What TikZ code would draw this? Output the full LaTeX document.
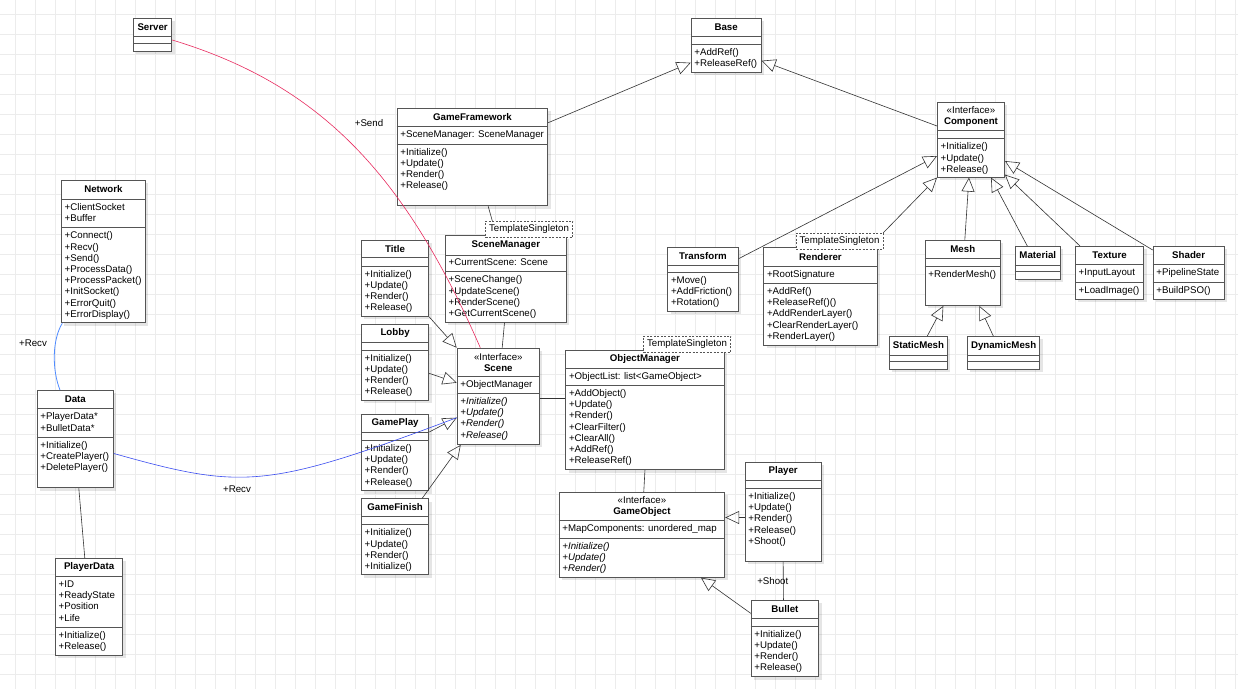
\documentclass[tikz,border=0pt]{standalone}
\usepackage{fontspec}
\setmainfont{Liberation Sans}
\usetikzlibrary{arrows.meta,shadows}
\definecolor{gridgray}{RGB}{236,236,236}
\definecolor{boxline}{RGB}{85,85,85}
\definecolor{linkgray}{RGB}{51,51,51}
\definecolor{sendred}{RGB}{232,44,96}
\definecolor{recvblue}{RGB}{58,76,240}
\definecolor{netblue}{RGB}{80,140,255}
\newcommand{\umlfont}{\fontsize{9.7}{11.2}\selectfont}

\tikzset{
  gridline/.style={draw=gridgray, line width=0.8pt},
  classbox/.style={draw=boxline, line width=0.9pt, fill=white, anchor=north west, inner sep=0pt,
    drop shadow={shadow xshift=3pt, shadow yshift=-3pt, opacity=0.1, fill=black}},
  classline/.style={draw=boxline, line width=0.9pt},
  classname/.style={font=\fontsize{9.7}{10.7}\selectfont\bfseries, align=center, inner sep=0pt},
  members/.style={font=\umlfont, align=left, anchor=north west, inner sep=0pt},
  singleton/.style={draw=boxline, dash pattern=on 2pt off 1.5pt, fill=white, font=\umlfont,
    inner sep=0pt, minimum width=87pt, minimum height=16.5pt},
  inherit/.style={draw=linkgray, line width=0.6pt, -{Triangle[open, length=14pt, width=13pt]}},
  assoc/.style={draw=linkgray, line width=0.6pt},
  sendline/.style={draw=sendred, line width=0.6pt},
  recvline/.style={draw=recvblue, line width=0.6pt},
  netline/.style={draw=netblue, line width=0.8pt},
  lbl/.style={font=\umlfont, inner sep=0pt},
}

% class box: name, corner, width, height, title depth, attribute depth, title, attributes, methods
\newcommand{\umlclass}[9]{%
  \node[classbox, minimum width=#3, minimum height=#4] (#1) at (#2) {};
  \draw[classline] ([yshift=-#5]#1.north west) -- ([yshift=-#5]#1.north east);
  \draw[classline] ([yshift=-#6]#1.north west) -- ([yshift=-#6]#1.north east);
  \node[classname] (#1-t) at ([yshift=-#5/2]#1.north) {#7};
  \node[members] (#1-a) at ([xshift=3.5, yshift=-#5-4]#1.north west) {#8};
  \node[members] (#1-m) at ([xshift=3.5, yshift=-#6-4]#1.north west) {#9};
}

\begin{document}
\begin{tikzpicture}[x=1pt, y=-1pt]
  % background and grid
  \fill[white] (0,0) rectangle (1238,689);
  \useasboundingbox (0,0) rectangle (1238,689);
  \foreach \gx in {15.5,35.5,...,1235.5} \draw[gridline] (\gx,0) -- (\gx,689);
  \foreach \gy in {14.5,34.5,...,674.5} \draw[gridline] (0,\gy) -- (1238,\gy);

  % network side
  \umlclass{server}{133,18}{38.3}{33}{18.7}{25.7}{Server}{}{}
  \umlclass{network}{61,180}{84}{142.3}{19}{47.7}{Network}{+ClientSocket\\+Buffer}%
    {+Connect()\\+Recv()\\+Send()\\+ProcessData()\\+ProcessPacket()\\+InitSocket()\\+ErrorQuit()\\+ErrorDisplay()}
  \umlclass{data}{36.7,390}{76.3}{97.3}{18.7}{47.3}{Data}{+PlayerData*\\+BulletData*}%
    {+Initialize()\\+CreatePlayer()\\+DeletePlayer()}
  \umlclass{playerdata}{55,558}{67.3}{97}{18.7}{69.3}{PlayerData}{+ID\\+ReadyState\\+Position\\+Life}%
    {+Initialize()\\+Release()}

  % framework and scenes
  \umlclass{base}{690.7,17.7}{70}{54}{19}{26.3}{Base}{}{+AddRef()\\+ReleaseRef()}
  \umlclass{framework}{396.7,107.7}{150.6}{97.6}{19}{36.3}{GameFramework}{+SceneManager: SceneManager}%
    {+Initialize()\\+Update()\\+Render()\\+Release()}
  \umlclass{scenemgr}{445,235.3}{120.7}{86.4}{19.7}{36.4}{SceneManager}{+CurrentScene: Scene}%
    {+SceneChange()\\+UpdateScene()\\+RenderScene()\\+GetCurrentScene()}
  \umlclass{title}{361,240}{67.3}{76}{17.3}{26}{Title}{}{+Initialize()\\+Update()\\+Render()\\+Release()}
  \umlclass{lobby}{361,324}{67.3}{76}{18}{26}{Lobby}{}{+Initialize()\\+Update()\\+Render()\\+Release()}
  \umlclass{gameplay}{361,414}{67.3}{76.3}{18.3}{26.3}{GamePlay}{}{+Initialize()\\+Update()\\+Render()\\+Release()}
  \umlclass{gamefinish}{361,498.3}{67.3}{76}{17.7}{26.4}{GameFinish}{}{+Initialize()\\+Update()\\+Render()\\+Initialize()}
  \umlclass{scene}{456.7,347.7}{82.3}{96.3}{29}{45.6}{{\mdseries «Interface»}\\Scene}{+ObjectManager}%
    {\textit{+Initialize()}\\\textit{+Update()}\\\textit{+Render()}\\\textit{+Release()}}

  % objects
  \umlclass{objmgr}{565.3,349.7}{158.4}{119.6}{18.6}{35.6}{ObjectManager}{+ObjectList: list<GameObject>}%
    {+AddObject()\\+Update()\\+Render()\\+ClearFilter()\\+ClearAll()\\+AddRef()\\+ReleaseRef()}
  \umlclass{gameobject}{558.7,492}{165.6}{84.7}{28.7}{46}{{\mdseries «Interface»}\\GameObject}%
    {+MapComponents: unordered\_map}{\textit{+Initialize()}\\\textit{+Update()}\\\textit{+Render()}}
  \umlclass{player}{744.7,462}{76}{98.7}{18.3}{26.3}{Player}{}{+Initialize()\\+Update()\\+Render()\\+Release()\\+Shoot()}
  \umlclass{bullet}{750.7,600}{67.6}{76.3}{18}{26}{Bullet}{}{+Initialize()\\+Update()\\+Render()\\+Release()}

  % components
  \umlclass{component}{937,102}{67}{74.7}{28.3}{36.7}{{\mdseries «Interface»}\\Component}{}%
    {+Initialize()\\+Update()\\+Release()}
  \umlclass{transform}{667.3,246.7}{70.4}{64}{18.3}{25.6}{Transform}{}{+Move()\\+AddFriction()\\+Rotation()}
  \umlclass{renderer}{763.3,246.7}{113.4}{98.3}{20}{36.6}{Renderer}{+RootSignature}%
    {+AddRef()\\+ReleaseRef()()\\+AddRenderLayer()\\+ClearRenderLayer()\\+RenderLayer()}
  \umlclass{mesh}{924.7,240}{75.3}{65}{18.3}{26}{Mesh}{}{+RenderMesh()}
  \umlclass{staticmesh}{889,336}{58}{32.7}{19}{25.7}{StaticMesh}{}{}
  \umlclass{dynamicmesh}{967,336}{72.3}{32.7}{19}{25.7}{DynamicMesh}{}{}
  \umlclass{material}{1014.7,246}{45.3}{33}{19}{25.7}{Material}{}{}
  \umlclass{texture}{1075,246}{68.3}{52.7}{18.3}{36.3}{Texture}{+InputLayout}{+LoadImage()}
  \umlclass{shader}{1152.7,246}{71}{52.7}{18.3}{36.3}{Shader}{+PipelineState}{+BuildPSO()}

  % singleton tags
  \node[singleton] (tsscenemgr) at (529,229.3) {TemplateSingleton};
  \node[singleton] (tsobjmgr) at (687,344) {TemplateSingleton};
  \node[singleton] (tsrenderer) at (839.5,241.3) {TemplateSingleton};

  % generalizations
  \draw[inherit] ([yshift=-15]framework.north east) -- ([yshift=-45]base.north west);
  \draw[inherit] ([yshift=-24]component.north west) -- ([yshift=-43]base.north east);
  \draw[inherit] ([yshift=-12]transform.north east) -- ([yshift=-54]component.north west);
  \draw[inherit] (tsrenderer.north east) -- (component.south west);
  \draw[inherit] ([xshift=2]mesh.north) -- ([xshift=-2]component.south);
  \draw[inherit] ([xshift=12.6]material.north west) -- ([xshift=54]component.south west);
  \draw[inherit] ([xshift=5]texture.north west) -- ([yshift=3]component.south east);
  \draw[inherit] ([yshift=-4]shader.north west) -- ([yshift=-59]component.north east);
  \draw[inherit] ([xshift=38.3]staticmesh.north west) -- ([xshift=18.6]mesh.south west);
  \draw[inherit] ([xshift=26.3]dynamicmesh.north west) -- ([xshift=54.6]mesh.south west);
  \draw[inherit] (title.south east) -- (scene.north west);
  \draw[inherit] ([yshift=-49.3]lobby.north east) -- ([yshift=-35]scene.north west);
  \draw[inherit] ([yshift=-18]gameplay.north east) -- ([yshift=-70]scene.north west);
  \draw[inherit] ([xshift=-7]gamefinish.north east) -- ([xshift=4]scene.south west);
  \draw[inherit] ([yshift=-55.5]player.north west) -- ([yshift=-25.5]gameobject.north east);
  \draw[inherit] ([yshift=-13.3]bullet.north west) -- ([xshift=-24.3]gameobject.south east);

  % associations
  \draw[assoc] ([xshift=15.7]framework.south) -- ([xshift=7]tsscenemgr.north west);
  \draw[assoc] ([xshift=-1.3]scenemgr.south) -- ([xshift=3.9]scene.north);
  \draw[assoc] ([yshift=-50.6]scene.north east) -- ([yshift=-48.6]objmgr.north west);
  \draw[assoc] (objmgr.south) -- ([xshift=1.8]gameobject.north);
  \draw[assoc] (player.south) -- node[lbl, xshift=-10.5] (shootlbl) {+Shoot} ([xshift=-1.5]bullet.north);
  \draw[assoc] ([xshift=3.5]data.south) -- ([xshift=-4.3]playerdata.north);

  % messages
  \draw[sendline] ([yshift=-22]server.north east) .. controls (321.3,85) and (405,175.2) .. ([xshift=-18]scene.north);
  \node[lbl] (sendlbl) at (369,123.3) {+Send};
  \draw[netline] ([xshift=1.3]network.south west) .. controls (52,340) and (52,370) .. ([xshift=23.3]data.north west);
  \node[lbl] (netlbl) at (33,343) {+Recv};
  \draw[recvline] ([yshift=-63.5]data.north east) .. controls (243,489.9) and (266.7,489) .. ([yshift=-70]scene.north west);
  \node[lbl] (recvlbl) at (237,488.7) {+Recv};
\end{tikzpicture}
\end{document}
